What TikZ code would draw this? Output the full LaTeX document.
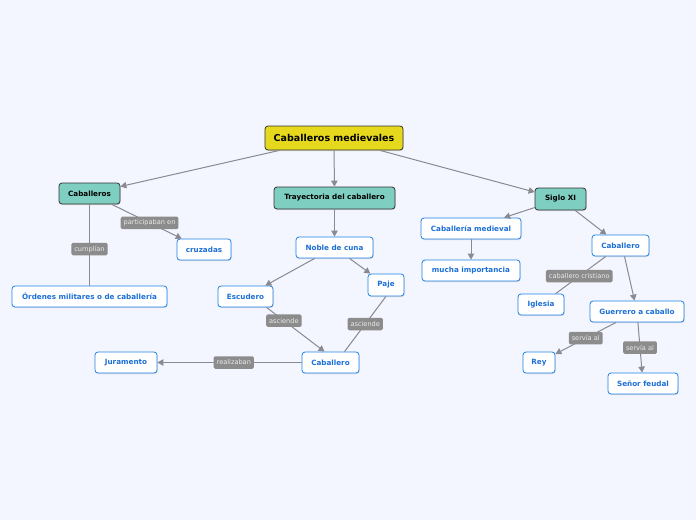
\documentclass[tikz,border=0pt]{standalone}
\usepackage{fontspec}
\setmainfont{DejaVu Sans}
\usetikzlibrary{arrows.meta,shadows,calc}
\definecolor{bgc}{HTML}{F3F6FE}
\definecolor{rootc}{HTML}{E6D81C}
\definecolor{tealc}{HTML}{7ECEC1}
\definecolor{bluec}{HTML}{1E82E6}
\definecolor{bluet}{HTML}{1B6FD6}
\definecolor{edgec}{HTML}{8A8A90}
\definecolor{lblc}{HTML}{8C8C8C}
\tikzset{
  base/.style={rounded corners=3pt, minimum height=21pt, inner sep=0pt, line width=0.8pt,
    font=\bfseries\fontsize{7.2}{8}\selectfont,
    drop shadow={opacity=0.25, shadow xshift=0.6pt, shadow yshift=-1pt}},
  mainbox/.style={base, fill=rootc, draw=black!80, minimum height=24pt, font=\bfseries\fontsize{9.5}{11}\selectfont},
  topicbox/.style={base, fill=tealc, draw=black!80, text=black},
  subbox/.style={base, fill=white, draw=bluec, text=bluet},
  lbl/.style={fill=lblc, text=white!92!black, rounded corners=1.5pt, inner xsep=3pt, inner ysep=0pt,
    minimum height=12.5pt, font=\fontsize{6.6}{7}\selectfont},
  conn/.style={draw=edgec, line width=1pt},
  arr/.style={conn, -{Triangle[length=6pt,width=6.5pt]}},
}
\begin{document}
\begin{tikzpicture}[x=1pt,y=-1pt]
\fill[bgc] (0,0) rectangle (696,520);
\useasboundingbox (0,0) rectangle (696,520);

\node[mainbox, minimum width=138pt] (root) at (334,138) {Caballeros medievales};
\node[topicbox, minimum width=61pt] (cabs) at (89.5,193.5) {Caballeros};
\node[topicbox, minimum width=121pt, minimum height=22pt] (tray) at (334.5,198) {Trayectoria del caballero};
\node[topicbox, minimum width=51pt, minimum height=22pt] (siglo) at (560.5,199) {Siglo XI};

\node[subbox, minimum width=54pt] (cruz) at (204,249.5) {cruzadas};
\node[subbox, minimum width=155pt] (ord) at (89.5,296.5) {Órdenes militares o de caballería};
\node[subbox, minimum width=77pt] (noble) at (334.5,247.5) {Noble de cuna};
\node[subbox, minimum width=55pt] (esc) at (245.5,296.5) {Escudero};
\node[subbox, minimum width=36pt, minimum height=22pt] (paje) at (386,285) {Paje};
\node[subbox, minimum width=57pt] (cabm) at (330.5,362.5) {Caballero};
\node[subbox, minimum width=62pt] (jur) at (126,362.5) {Juramento};
\node[subbox, minimum width=100pt] (cmed) at (471,228.5) {Caballería medieval};
\node[subbox, minimum width=98pt] (mucha) at (471,270.5) {mucha importancia};
\node[subbox, minimum width=57pt] (cabr) at (620.5,245.5) {Caballero};
\node[subbox, minimum width=46pt] (igl) at (541,304.5) {Iglesia};
\node[subbox, minimum width=94pt] (guer) at (637,311.5) {Guerrero a caballo};
\node[subbox, minimum width=32pt] (rey) at (539,362.5) {Rey};
\node[subbox, minimum width=70pt] (senor) at (643,383.5) {Señor feudal};

\draw[arr] (root) -- (cabs);
\draw[arr] (root) -- (tray);
\draw[arr] (root) -- (siglo);
\draw[arr] (cabs) -- node[lbl, pos=0.54]{participaban en} (cruz);
\draw[conn] (cabs) -- node[lbl, pos=0.55]{cumplían} (ord);
\draw[arr] (tray) -- (noble);
\draw[arr] (noble) -- (esc);
\draw[arr] (noble) -- (paje);
\draw[arr] ($(esc.south)+(21,0)$) -- node[lbl, pos=0.3]{asciende} ($(cabm.north)+(-6,0)$);
\draw[conn] (paje.south) -- node[lbl]{asciende} ($(cabm.north)+(14,0)$);
\draw[arr] (cabm) -- node[lbl, pos=0.47]{realizaban} (jur);
\draw[arr] (siglo) -- (cmed);
\draw[arr] (cmed) -- (mucha);
\draw[arr] (siglo) -- (cabr);
\draw[conn] (cabr) -- node[lbl, pos=0.53]{caballero cristiano} (igl);
\draw[arr] ($(cabr.south)+(4,0)$) -- (guer);
\draw[arr] (guer) -- node[lbl, pos=0.5]{servía al} (rey);
\draw[arr] (guer) -- node[lbl]{servía al} (senor);
\end{tikzpicture}
\end{document}
